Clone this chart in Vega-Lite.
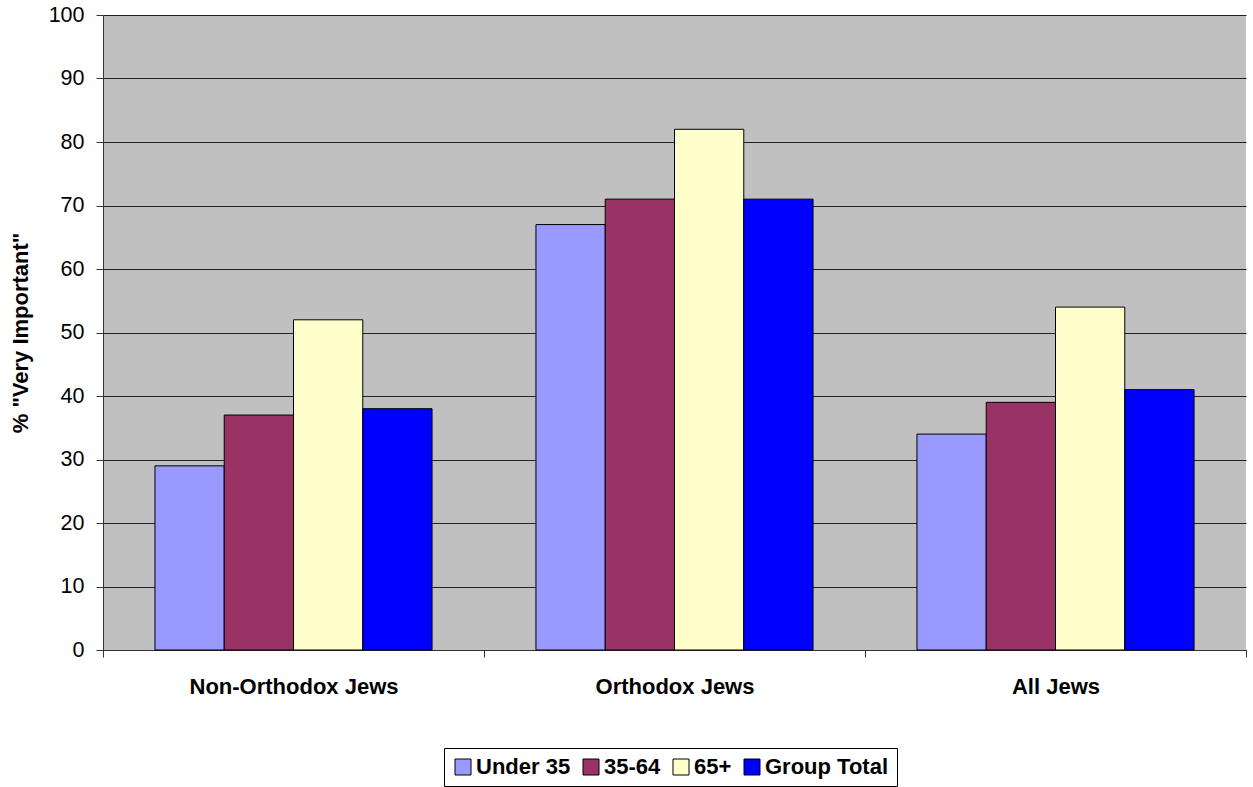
{
  "$schema": "https://vega.github.io/schema/vega-lite/v6.json",
  "width": 1143,
  "height": 635,
  "autosize": {"type": "none"},
  "padding": {"left": 103, "top": 15, "right": 7, "bottom": 137},
  "background": "white",
  "data": {
    "values": [
      {"group": "Non-Orthodox Jews", "age": "Under 35", "value": 29},
      {"group": "Non-Orthodox Jews", "age": "35-64", "value": 37},
      {"group": "Non-Orthodox Jews", "age": "65+", "value": 52},
      {"group": "Non-Orthodox Jews", "age": "Group Total", "value": 38},
      {"group": "Orthodox Jews", "age": "Under 35", "value": 67},
      {"group": "Orthodox Jews", "age": "35-64", "value": 71},
      {"group": "Orthodox Jews", "age": "65+", "value": 82},
      {"group": "Orthodox Jews", "age": "Group Total", "value": 71},
      {"group": "All Jews", "age": "Under 35", "value": 34},
      {"group": "All Jews", "age": "35-64", "value": 39},
      {"group": "All Jews", "age": "65+", "value": 54},
      {"group": "All Jews", "age": "Group Total", "value": 41}
    ]
  },
  "mark": {"type": "bar", "stroke": "black", "strokeWidth": 1},
  "encoding": {
    "x": {
      "field": "group",
      "type": "nominal",
      "sort": ["Non-Orthodox Jews", "Orthodox Jews", "All Jews"],
      "scale": {"paddingInner": 0, "paddingOuter": 0},
      "axis": {
        "title": null,
        "labelAngle": 0,
        "labelFont": "Liberation Sans",
        "labelFontSize": 22,
        "labelFontWeight": "bold",
        "labelColor": "black",
        "labelLimit": 0,
        "labelPadding": 19,
        "tickBand": "extent",
        "ticks": true,
        "tickSize": 7,
        "tickColor": "#333",
        "domainColor": "#333",
        "grid": false
      }
    },
    "xOffset": {
      "field": "age",
      "type": "nominal",
      "sort": ["Under 35", "35-64", "65+", "Group Total"],
      "scale": {"paddingInner": 0, "paddingOuter": 0.75}
    },
    "y": {
      "field": "value",
      "type": "quantitative",
      "scale": {"domain": [0, 100]},
      "axis": {
        "title": "% \"Very Important\"",
        "titleFont": "Liberation Sans",
        "titleFontSize": 22,
        "titleFontWeight": "bold",
        "titleColor": "black",
        "titlePadding": 16,
        "values": [0, 10, 20, 30, 40, 50, 60, 70, 80, 90, 100],
        "labelFont": "Liberation Sans",
        "labelFontSize": 21.5,
        "labelColor": "black",
        "labelPadding": 12,
        "tickSize": 7,
        "tickColor": "#333",
        "domainColor": "#333",
        "grid": true,
        "gridColor": "#222",
        "gridWidth": 1
      }
    },
    "color": {
      "field": "age",
      "type": "nominal",
      "sort": ["Under 35", "35-64", "65+", "Group Total"],
      "scale": {
        "domain": ["Under 35", "35-64", "65+", "Group Total"],
        "range": ["#9999FF", "#993366", "#FFFFCC", "#0000FF"]
      },
      "legend": {
        "title": null,
        "orient": "none",
        "legendX": 341,
        "legendY": 733,
        "direction": "horizontal",
        "symbolType": "square",
        "symbolSize": 256,
        "symbolStrokeColor": "black",
        "symbolStrokeWidth": 1,
        "symbolOpacity": 1,
        "labelFont": "Liberation Sans",
        "labelFontSize": 22,
        "labelFontWeight": "bold",
        "labelColor": "black",
        "labelLimit": 300,
        "columnPadding": 9,
        "symbolOffset": 0,
        "labelOffset": 2,
        "strokeColor": "black",
        "padding": 8
      }
    }
  },
  "config": {
    "view": {"fill": "#C0C0C0", "stroke": null},
    "axis": {"domainWidth": 1, "tickWidth": 1}
  }
}
